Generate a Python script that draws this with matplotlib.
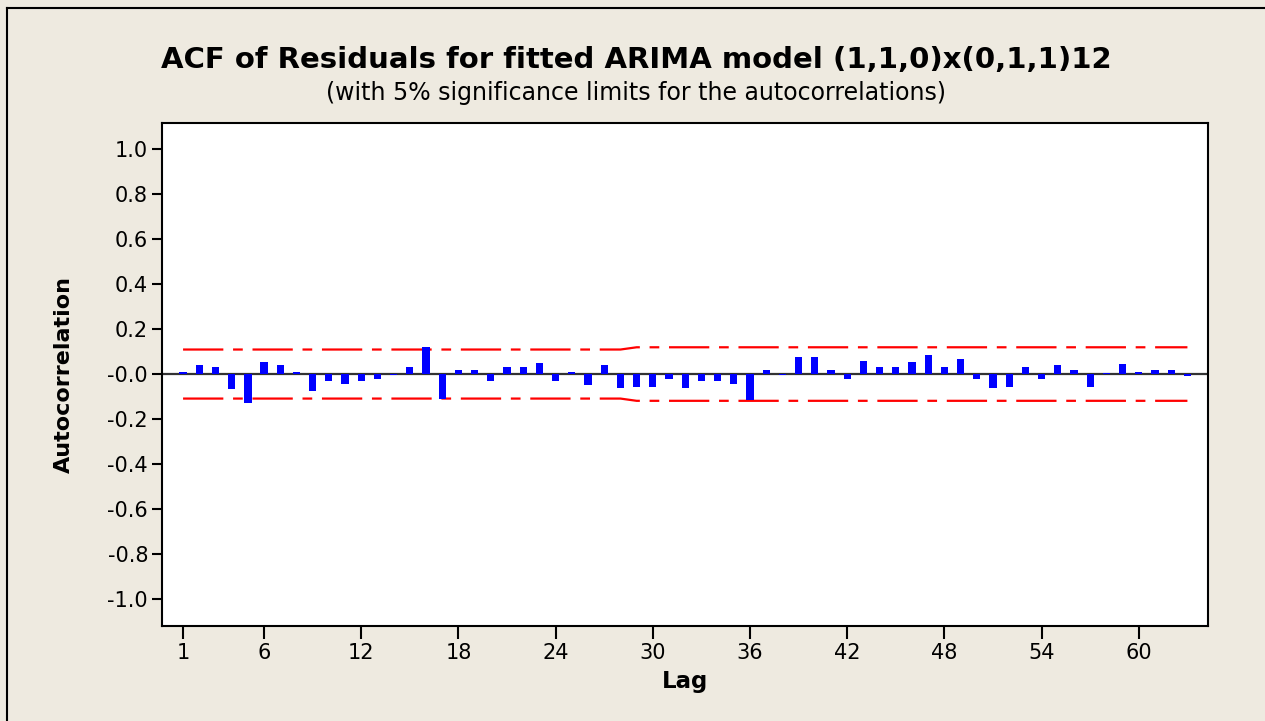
import matplotlib
matplotlib.use('Agg')
import matplotlib.pyplot as plt
from matplotlib.lines import Line2D
import numpy as np

plt.rcParams['font.family'] = 'DejaVu Sans'
plt.rcParams['axes.unicode_minus'] = False
plt.rcParams['lines.scale_dashes'] = False

# ACF of residuals, lags 1..63
lags = list(range(1, 64))
acf = [0.01, 0.04, 0.03, -0.065, -0.13, 0.052, 0.04, 0.01, -0.075, -0.03,
       -0.046, -0.03, -0.02, -0.005, 0.03, 0.12, -0.113, 0.02, 0.02, -0.03,
       0.03, 0.03, 0.047, -0.03, 0.01, -0.05, 0.04, -0.064, -0.057, -0.057,
       -0.02, -0.064, -0.03, -0.03, -0.046, -0.116, 0.02, -0.005, 0.077, 0.077,
       0.02, -0.02, 0.06, 0.03, 0.03, 0.052, 0.085, 0.03, 0.067, -0.02,
       -0.064, -0.057, 0.03, -0.02, 0.04, 0.02, -0.057, 0.005, 0.045, 0.01,
       0.02, 0.02, -0.01]
# 5% significance limits
limit = [0.109] * 28 + [0.119] * 35

lags = np.array(lags)
acf = np.array(acf)
limit = np.array(limit)

bg = '#EEEAE0'
fig = plt.figure(figsize=(12.65, 7.21), dpi=100, facecolor=bg)

# outer frame: only the top and left edges are inside the picture
x0, y0 = 7.5 / 1265, 1 - 7.5 / 721
fig.add_artist(Line2D([x0, 1.0], [y0, y0], transform=fig.transFigure,
                      color='black', linewidth=1.5))
fig.add_artist(Line2D([x0, x0], [0.0, y0], transform=fig.transFigure,
                      color='black', linewidth=1.5))

ax = fig.add_axes([162 / 1265, 95 / 721, (1208 - 162) / 1265, (626 - 123) / 721])
ax.set_facecolor('white')

ax.bar(lags, acf, width=0.45, color='#0000FF', zorder=3)
ax.axhline(0, color='#333333', linewidth=1.6, zorder=2)
ax.plot(lags, limit, color='red', linewidth=1.6, dashes=(29, 7, 7, 7), zorder=2)
ax.plot(lags, -limit, color='red', linewidth=1.6, dashes=(29, 7, 7, 7), zorder=2)

ax.set_xlim(-0.3, 64.27)
ax.set_ylim(-1.12, 1.116)
ax.set_xticks([1, 6, 12, 18, 24, 30, 36, 42, 48, 54, 60])
yt = np.round(np.arange(-1.0, 1.01, 0.2), 1)
ax.set_yticks(yt)
ax.set_yticklabels([f'{v:.1f}' for v in yt])
ax.tick_params(axis='both', labelsize=15, width=1.5, direction='out', color='black')
ax.tick_params(axis='x', length=9, pad=3)
ax.tick_params(axis='y', length=7, pad=3)
for s in ax.spines.values():
    s.set_linewidth(1.5)

ax.set_xlabel('Lag', fontsize=16.5, fontweight='bold', labelpad=5)
ax.set_ylabel('Autocorrelation', fontsize=16, fontweight='bold', labelpad=24)

fig.text(636 / 1265, 1 - 60 / 721,
         'ACF of Residuals for fitted ARIMA model (1,1,0)x(0,1,1)12',
         ha='center', va='center', fontsize=21, fontweight='bold')
fig.text(636 / 1265, 1 - 93 / 721,
         '(with 5% significance limits for the autocorrelations)',
         ha='center', va='center', fontsize=17)

plt.savefig('out.png', dpi=100, facecolor=bg)
